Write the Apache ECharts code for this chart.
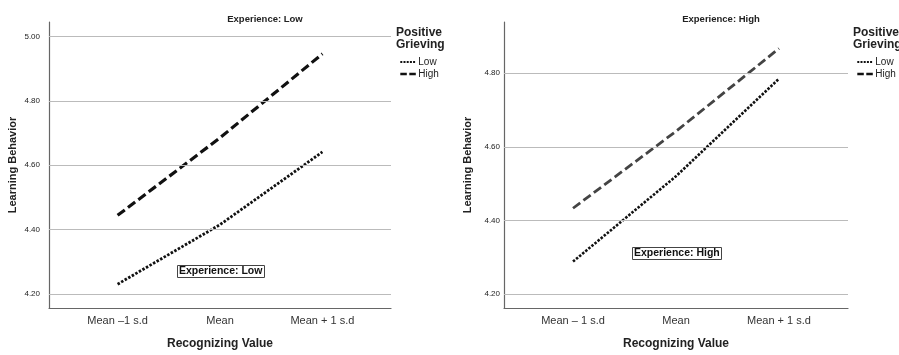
<!DOCTYPE html>
<html><head><meta charset="utf-8">
<script src="https://cdn.jsdelivr.net/npm/echarts@6/dist/echarts.min.js"></script>
<style>html,body{margin:0;padding:0;background:#fff}#c{width:899px;height:355px}</style>
</head><body><div id="c"></div>
<script>
// ---- data ----
const catsLeft = ['Mean \u20131 s.d', 'Mean', 'Mean + 1 s.d'];
const catsRight = ['Mean \u2013 1 s.d', 'Mean', 'Mean + 1 s.d'];
const leftLow = [4.230, 4.415, 4.641];
const leftHigh = [4.444, 4.685, 4.946];
const rightLow = [4.288, 4.520, 4.785];
const rightHigh = [4.433, 4.642, 4.867];
const leftTicks = [4.2, 4.4, 4.6, 4.8, 5.0];
const rightTicks = [4.2, 4.4, 4.6, 4.8];
const legendNames = ['Low', 'High'];

const FONT = 'Arial, "Liberation Sans", sans-serif';
const pts = arr => arr.map((v, i) => [i, v]);

function xAxis(gridIndex, cats) {
  return {
    type: 'value', gridIndex, min: -0.67, max: 2.67,
    axisLine: {show: true, onZero: false, lineStyle: {color: '#666', width: 1.2}},
    axisTick: {show: false},
    splitLine: {show: false},
    axisLabel: {customValues: [0, 1, 2], formatter: v => cats[Math.round(v)], color: '#333', fontSize: 11, fontFamily: FONT, margin: 7},
    name: 'Recognizing Value', nameLocation: 'middle', nameGap: 30,
    nameTextStyle: {fontWeight: 'bold', fontSize: 12, color: '#222', fontFamily: FONT}
  };
}
function yAxis(gridIndex, min, max, ticks, margin) {
  return {
    type: 'value', gridIndex, min, max,
    axisLine: {show: true, onZero: false, lineStyle: {color: '#666', width: 1.2}},
    axisTick: {show: false},
    splitLine: {show: false},
    axisLabel: {customValues: ticks, formatter: v => v.toFixed(2), color: '#222', fontSize: 8, fontFamily: FONT, margin},
    name: 'Learning Behavior', nameLocation: 'middle', nameGap: 31,
    nameTextStyle: {fontWeight: 'bold', fontSize: 11, color: '#222', fontFamily: FONT}
  };
}
function gridSeries(idx, ticks) {
  return {
    type: 'line', xAxisIndex: idx, yAxisIndex: idx, data: [], silent: true, z: 1,
    markLine: {silent: true, symbol: 'none', label: {show: false}, animation: false,
      lineStyle: {color: '#bbb', width: 1.2, type: 'solid'},
      data: ticks.map(v => ({yAxis: v}))}
  };
}
function lineSeries(name, idx, vals, color, dash, width) {
  return {
    name, type: 'line', xAxisIndex: idx, yAxisIndex: idx, data: pts(vals),
    symbol: 'none', z: 3, animation: false,
    lineStyle: {color, width, type: dash}, itemStyle: {color}
  };
}
function legendData(suffix, highColor) {
  return [
    {name: legendNames[0] + suffix, lineStyle: {type: [2, 1.2], width: 2.2, color: '#111'}},
    {name: legendNames[1] + suffix, lineStyle: {type: [6.5, 2.5], width: 2.6, color: highColor}}
  ];
}
const legendCommon = {orient: 'vertical', itemWidth: 16, itemHeight: 6, itemGap: 2, padding: 0,
  itemStyle: {color: 'transparent', borderWidth: 0, opacity: 0},
  formatter: n => n.trim(),
  textStyle: {fontSize: 10, color: '#222', fontFamily: FONT, padding: [0, 0, 0, -3]}};
const chart = echarts.init(document.getElementById('c'));
chart.setOption({
  animation: false,
  grid: [
    {left: 49, top: 22, width: 342, height: 291.5},
    {left: 504, top: 22, width: 344, height: 291.5}
  ],
  xAxis: [xAxis(0, catsLeft), xAxis(1, catsRight)],
  yAxis: [yAxis(0, 4.156, 5.045, leftTicks, 9), yAxis(1, 4.162, 4.939, rightTicks, 4)],
  title: [
    {text: 'Experience: Low', left: 260, top: 9, textAlign: 'center', textStyle: {fontSize: 9.5, fontWeight: 'bold', color: '#222', fontFamily: FONT}},
    {text: 'Experience: High', left: 716, top: 9, textAlign: 'center', textStyle: {fontSize: 9.5, fontWeight: 'bold', color: '#222', fontFamily: FONT}},
    {text: 'Positive\nGrieving', left: 396, top: 27, padding: 0, textStyle: {fontSize: 12, fontWeight: 'bold', color: '#222', lineHeight: 12, fontFamily: FONT}},
    {text: 'Positive\nGrieving', left: 853, top: 27, padding: 0, textStyle: {fontSize: 12, fontWeight: 'bold', color: '#222', lineHeight: 12, fontFamily: FONT}},
    {text: 'Experience: Low', left: 177, top: 265, padding: [1, 2], borderColor: '#444', borderWidth: 1, textStyle: {fontSize: 10.5, fontWeight: 'bold', color: '#111', fontFamily: FONT}},
    {text: 'Experience: High', left: 632, top: 247, padding: [1, 2], borderColor: '#444', borderWidth: 1, textStyle: {fontSize: 10.5, fontWeight: 'bold', color: '#111', fontFamily: FONT}}
  ],
  legend: [
    Object.assign({}, legendCommon, {data: legendData('', '#111'), left: 399, top: 57}),
    Object.assign({}, legendCommon, {data: legendData(' ', '#111'), left: 856, top: 57})
  ],
  series: [
    gridSeries(0, leftTicks),
    gridSeries(1, rightTicks),
    lineSeries(legendNames[0], 0, leftLow, '#111', [2.5, 1.6], 2.8),
    lineSeries(legendNames[1], 0, leftHigh, '#111', [9, 4], 3.2),
    lineSeries(legendNames[0] + ' ', 1, rightLow, '#111', [2.5, 1.5], 2.6),
    lineSeries(legendNames[1] + ' ', 1, rightHigh, '#444', [9, 4], 2.8)
  ]
});
</script></body></html>
